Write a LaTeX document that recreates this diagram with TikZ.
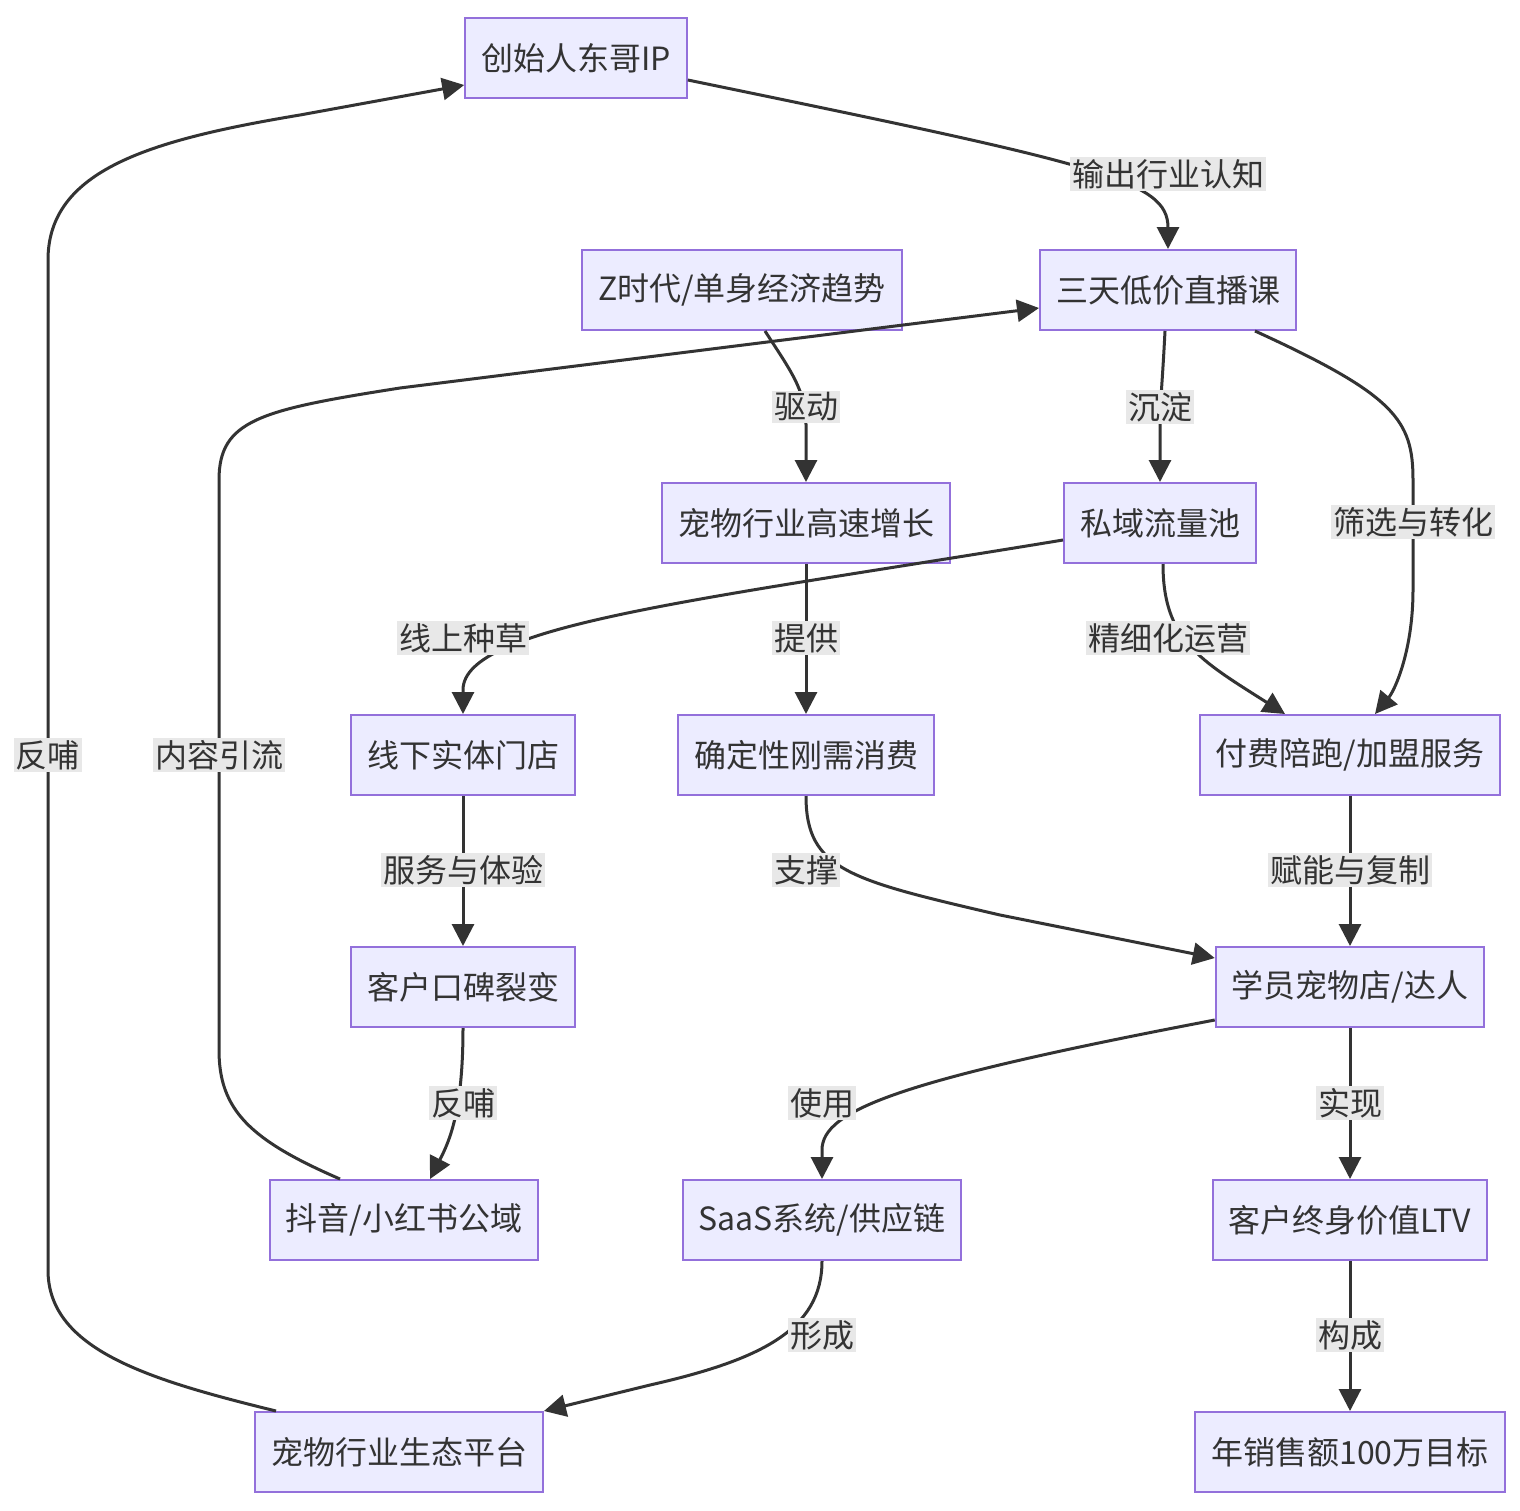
\documentclass[tikz,border=0pt]{standalone}
\usepackage{fontspec}
\setmainfont{Noto Sans CJK SC}
\usepackage{xcolor}
\usetikzlibrary{arrows.meta,calc}

\definecolor{boxfill}{HTML}{ECECFF}
\definecolor{boxline}{HTML}{9370DB}
\definecolor{ink}{HTML}{333333}
\definecolor{lblfill}{HTML}{E8E8E8}

\tikzset{
  box/.style={draw=boxline,fill=boxfill,line width=1pt,minimum height=40pt,inner xsep=8pt,text=ink,font=\fontsize{16}{19}\selectfont},
  edge/.style={draw=ink,line width=1.5pt,-{Triangle[length=11pt,width=11pt]}},
  lbl/.style={fill=lblfill,inner sep=1pt,text=ink,font=\fontsize{16}{19}\selectfont}
}

\begin{document}
\begin{tikzpicture}[x=0.5pt,y=-0.5pt]

      \useasboundingbox[fill=white] (0,0) rectangle (1520,1510);

      % nodes
      \node[box] (ip) at (576,58) {创始人东哥IP};
      \node[box] (trend) at (742,290) {Z时代/单身经济趋势};
      \node[box] (live) at (1168,290) {三天低价直播课};
      \node[box] (growth) at (806,523) {宠物行业高速增长};
      \node[box] (pool) at (1160,523) {私域流量池};
      \node[box] (store) at (463,755) {线下实体门店};
      \node[box] (need) at (806,755) {确定性刚需消费};
      \node[box] (paid) at (1350,755) {付费陪跑/加盟服务};
      \node[box] (praise) at (463,987) {客户口碑裂变};
      \node[box] (student) at (1350,987) {学员宠物店/达人};
      \node[box] (public) at (404,1220) {抖音/小红书公域};
      \node[box] (saas) at (822,1220) {SaaS系统/供应链};
      \node[box] (ltv) at (1350,1220) {客户终身价值LTV};
      \node[box] (eco) at (399,1452) {宠物行业生态平台};
      \node[box] (goal) at (1350,1452) {年销售额100万目标};

      % connectors
      \draw[edge] ($(ip.east)+(0,22)$) .. controls (1100,165) and (1168,180) .. (live.north);
      \draw[edge] ($(trend.south)+(23,0)$) .. controls (790,370) and (806,390) .. (806,425) -- (growth.north);
      \draw[edge] ($(live.south)+(-3,0)$) .. controls (1162,390) and (1160,400) .. (1160,430) -- (pool.north);
      \draw[edge] ($(live.south)+(87,0)$) .. controls (1395,395) and (1413,420) .. (1413,480) -- (1413,590) .. controls (1413,650) and (1395,690) .. ($(paid.north)+(25,0)$);
      \draw[edge] (growth.south) -- (need.north);
      \draw[edge] ($(pool.west)+(0,17)$) .. controls (700,600) and (463,625) .. (463,690) -- (store.north);
      \draw[edge] ($(pool.south)+(3,0)$) .. controls (1163,640) and (1200,660) .. ($(paid.north)+(-65,0)$);
      \draw[edge] (store.south) -- (praise.north);
      \draw[edge] (need.south) .. controls (806,870) and (850,880) .. (1000,915) -- ($(student.west)+(0,-29)$);
      \draw[edge] (paid.south) -- (student.north);
      \draw[edge] (praise.south) .. controls (463,1110) and (450,1140) .. ($(public.north)+(26,0)$);
      \draw[edge] ($(public.north)+(-64,0)$) .. controls (250,1140) and (219,1110) .. (219,1050) -- (219,480) .. controls (219,420) and (260,410) .. (400,388) -- ($(live.west)+(0,18)$);
      \draw[edge] ($(student.west)+(0,33)$) .. controls (900,1080) and (822,1110) .. (822,1150) -- (saas.north);
      \draw[edge] (student.south) -- (ltv.north);
      \draw[edge] (saas.south) .. controls (822,1330) and (760,1360) .. (650,1385) -- (eco.north east);
      \draw[edge] (ltv.south) -- (goal.north);
      \draw[edge] ($(eco.north)+(-123,0)$) .. controls (150,1380) and (48,1350) .. (48,1270) -- (48,260) .. controls (48,170) and (150,140) .. (300,115) -- ($(ip.west)+(0,27)$);

      % labels
      \node[lbl] (l1) at (1168,174) {输出行业认知};
      \node[lbl] (l2) at (806,407) {驱动};
      \node[lbl] (l3) at (1160,407) {沉淀};
      \node[lbl] (l4) at (1413,522) {筛选与转化};
      \node[lbl] (l5) at (806,638) {提供};
      \node[lbl] (l6) at (463,638) {线上种草};
      \node[lbl] (l7) at (1168,638) {精细化运营};
      \node[lbl] (l8) at (463,870) {服务与体验};
      \node[lbl] (l9) at (806,870) {支撑};
      \node[lbl] (l10) at (1350,870) {赋能与复制};
      \node[lbl] (l11) at (463,1103) {反哺};
      \node[lbl] (l12) at (219,755) {内容引流};
      \node[lbl] (l13) at (822,1103) {使用};
      \node[lbl] (l14) at (1350,1103) {实现};
      \node[lbl] (l15) at (822,1335) {形成};
      \node[lbl] (l16) at (1350,1335) {构成};
      \node[lbl] (l17) at (48,755) {反哺};

    \end{tikzpicture}
\end{document}
